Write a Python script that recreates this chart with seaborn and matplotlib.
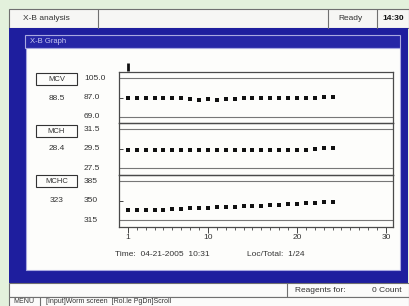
import numpy as np
import pandas as pd
import matplotlib
matplotlib.use("Agg")
import matplotlib.pyplot as plt
import matplotlib.patches as mpatches
import matplotlib.transforms as mtransforms
import seaborn as sns

sns.set_theme(style="white")
plt.rcParams['font.family'] = ['Liberation Sans', 'DejaVu Sans']

# ---------------- data ----------------
runs = list(range(1, 25))
mcv = [86.4, 86.4, 86.3, 86.4, 86.4, 86.3, 86.4, 85.3, 85.1, 85.2, 85.1, 85.2,
       85.4, 86.4, 86.3, 86.4, 86.4, 86.3, 86.4, 86.4, 86.5, 87.0, 87.3, 87.4]
mch = [29.4, 29.4, 29.4, 29.4, 29.4, 29.4, 29.4, 29.4, 29.4, 29.4, 29.4, 29.4,
       29.4, 29.4, 29.4, 29.4, 29.4, 29.4, 29.4, 29.4, 29.4, 29.5, 29.6, 29.6]
mchc = [334, 334, 334, 334, 334, 335, 336.5, 337, 337, 337.5, 338.7, 339,
        340, 340.5, 341, 341.5, 342.7, 343.3, 344, 344.5, 345.6, 346.8, 348.5, 349]
params = ["MCV", "MCH", "MCHC"]
current_values = ["88.5", "28.4", "323"]
centers = [87.0, 29.5, 350.0]
upper_limits = [105.0, 31.5, 385.0]
lower_limits = [69.0, 27.5, 315.0]
limit_labels = [["105.0", "87.0", "69.0"], ["31.5", "29.5", "27.5"], ["385", "350", "315"]]
x_ticks = [1, 10, 20, 30]
series = [mcv, mch, mchc]

W, H = 409, 306
fig = plt.figure(figsize=(W / 100, H / 100), dpi=100)
fig.patch.set_facecolor("#e3f1dc")

bg = fig.add_axes([0, 0, 1, 1])
bg.set_xlim(0, W)
bg.set_ylim(H, 0)
bg.axis("off")
bg.set_zorder(0)

def rect(x0, y0, x1, y1, fc, ec="none", lw=0.8, z=1):
    bg.add_patch(mpatches.Rectangle((x0, y0), x1 - x0, y1 - y0, facecolor=fc,
                                    edgecolor=ec, linewidth=lw, zorder=z))

BLUE = "#1e1e9e"
BORDER = "#707070"
TXT = "#333333"

# top status bar
rect(9, 9, 409, 28, "#f6f6f4", BORDER)
for xd in (98, 328, 377):
    bg.plot([xd, xd], [9, 28], color=BORDER, lw=0.8, zorder=2)
bg.text(23, 18.5, "X-B analysis", fontsize=6, color=TXT, va="center", ha="left")
bg.text(338, 18.5, "Ready", fontsize=6, color=TXT, va="center", ha="left")
bg.text(382, 18.5, "14:30", fontsize=6, color="#111111", va="center", ha="left",
        fontweight="bold")

# blue frame
rect(9, 28, 408, 283, BLUE)
# title bar
rect(25, 35, 400, 48, "#2626a6", "#a8a8e0", lw=0.8, z=2)
bg.text(30, 41.5, "X-B Graph", fontsize=5.5, color="#c9c9f2", va="center", ha="left", zorder=3)
# white panel
rect(26, 48, 400, 270, "#fdfdfb", "#a8a8e0", lw=0.8, z=2)

# bottom bars
rect(9, 283, 409, 297, "#fbfbfa", BORDER, z=2)
bg.plot([287, 287], [283, 297], color=BORDER, lw=0.8, zorder=3)
bg.text(295, 290, "Reagents for:", fontsize=6, color=TXT, va="center", ha="left", zorder=3)
bg.text(372, 290, "0 Count", fontsize=6, color=TXT, va="center", ha="left", zorder=3)
rect(9, 297, 409, 310, "#fbfbfa", BORDER, z=2)
bg.text(13, 301.8, "MENU", fontsize=5, color=TXT, va="center", ha="left", zorder=3)
bg.plot([40, 40], [297, 306], color=BORDER, lw=0.8, zorder=3)
bg.text(46, 301.8, "[Input]Worm screen  [Rol.le PgDn]Scroll", fontsize=5, color=TXT,
        va="center", ha="left", zorder=3)

# left parameter boxes
box_tops = [73, 125, 175]
val_y = [98, 149, 200]
for p, v, bt, vy in zip(params, current_values, box_tops, val_y):
    rect(36, bt, 77, bt + 12, "#fdfdfb", "#333333", lw=0.8, z=3)
    bg.text(56.5, bt + 6.3, p, fontsize=5.5, color=TXT, ha="center", va="center", zorder=4)
    bg.text(56.5, vy, v, fontsize=6, color=TXT, ha="center", va="center", zorder=4)

# bottom info line
bg.text(115, 255, "Time:  04-21-2005  10:31", fontsize=6, color=TXT, ha="left", va="center", zorder=4)
bg.text(247, 255, "Loc/Total:  1/24", fontsize=6, color=TXT, ha="left", va="center", zorder=4)

# ---------------- chart panels ----------------
left_px, right_px = 119, 393
tops = [72, 123, 175]
bots = [123, 175, 227]
xmin, xmax = 0.0, 30.8

axes = []
for i in range(3):
    t, b = tops[i], bots[i]
    ax = fig.add_axes([left_px / W, 1 - b / H, (right_px - left_px) / W, (b - t) / H])
    ax.set_zorder(5)
    ax.patch.set_alpha(0)
    c = centers[i]
    half = upper_limits[i] - c
    ax.set_ylim(c - half * (b - t) / 2 / 19.5, c + half * (b - t) / 2 / 19.5)
    ax.set_xlim(xmin, xmax)
    for s in ax.spines.values():
        s.set_color("#4a4a4a")
        s.set_linewidth(0.9)
    ax.axhline(upper_limits[i], color="#777777", lw=0.8)
    ax.axhline(lower_limits[i], color="#777777", lw=0.8)
    df = pd.DataFrame({"run": runs, "value": series[i]})
    sns.scatterplot(data=df, x="run", y="value", ax=ax, marker="s", s=5,
                    color="#111111", linewidth=0, legend=False)
    ax.set_xlabel("")
    ax.set_ylabel("")
    ax.set_yticks([c])
    ax.set_yticklabels([])
    ax.tick_params(axis="y", direction="in", length=3, width=0.7, color="#444444", left=True)
    trans = mtransforms.blended_transform_factory(fig.transFigure, ax.transData)
    for val, lab in zip([upper_limits[i], c, lower_limits[i]], limit_labels[i]):
        ax.text(84 / W, val, lab, transform=trans, fontsize=6, color=TXT,
                ha="left", va="center", clip_on=False)
    if i < 2:
        ax.set_xticks([])
    else:
        ax.set_xticks(x_ticks)
        ax.set_xticklabels([str(t_) for t_ in x_ticks])
        ax.set_xticks(runs + list(range(25, 31)), minor=True)
        ax.tick_params(axis="x", which="major", direction="out", length=4, width=0.7,
                       color="#444444", labelsize=6, labelcolor=TXT, pad=1, bottom=True)
        ax.tick_params(axis="x", which="minor", direction="out", length=2.5, width=0.6,
                       color="#444444", bottom=True)
    axes.append(ax)

# cursor marker above first point
axes[0].plot([1, 1], [1.02, 1.17], color="#111111", lw=2,
             transform=mtransforms.blended_transform_factory(axes[0].transData, axes[0].transAxes),
             clip_on=False, solid_capstyle="butt")

fig.savefig("out.png", dpi=100, facecolor=fig.get_facecolor())
